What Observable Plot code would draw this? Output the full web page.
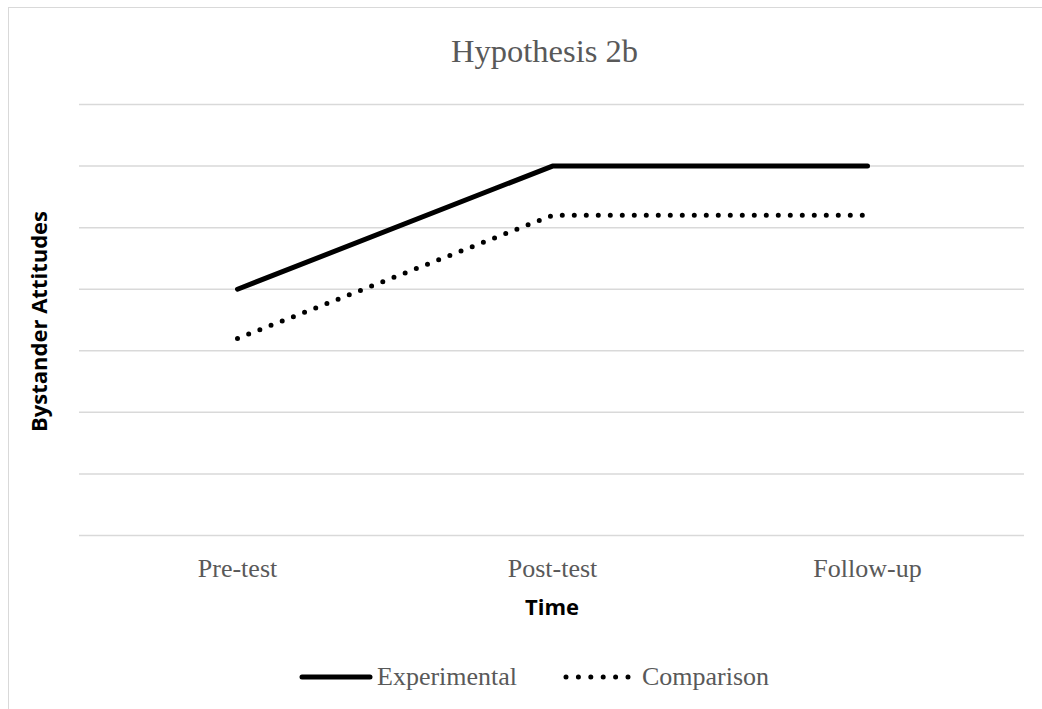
<!DOCTYPE html>
<html><head><meta charset="utf-8">
<script src="https://cdn.jsdelivr.net/npm/d3@7"></script>
<script src="https://cdn.jsdelivr.net/npm/@observablehq/plot@0.6"></script>
<style>
html,body{margin:0;padding:0;background:#fff;}
body{position:relative;width:1042px;height:709px;overflow:hidden;}
#frame{position:absolute;left:8px;top:7px;width:1200px;height:900px;border:1.5px solid #d9d9d9;box-sizing:border-box;}
#chart{position:absolute;left:0;top:0;}
#legend{position:absolute;left:0;top:0;}
</style>
</head><body>
<div id="frame"></div>
<div id="chart"></div>
<svg id="legend" width="1042" height="709"></svg>
<script>
// Data
const timepoints = ["Pre-test", "Post-test", "Follow-up"];
const experimental = [4.0, 6.0, 6.0];
const comparison = [3.2, 5.2, 5.2];
const gridValues = [1, 2, 3, 4, 5, 6, 7];
const titleText = "Hypothesis 2b";
const xLabel = "Time";
const yLabel = "Bystander Attitudes";
const seriesNames = ["Experimental", "Comparison"];

const expData = timepoints.map((t, i) => ({time: t, value: experimental[i]}));
const cmpData = timepoints.map((t, i) => ({time: t, value: comparison[i]}));

const serif = "'Liberation Serif', 'Times New Roman', serif";
const sans = "'Open Sans', 'Liberation Sans', sans-serif";
const grey = "#595959";
const gridColor = "#d9d9d9";

const chart = Plot.plot({
  width: 1042,
  height: 709,
  marginTop: 104,
  marginBottom: 174,
  marginLeft: 79,
  marginRight: 18,
  style: {background: "transparent", overflow: "visible"},
  x: {type: "point", domain: timepoints, padding: 0.5, axis: null},
  y: {domain: [0, 7], axis: null},
  marks: [
    Plot.ruleY(gridValues, {stroke: gridColor, strokeWidth: 1.5}),
    Plot.ruleY([0], {stroke: gridColor, strokeWidth: 1.5}),
    Plot.line(cmpData, {x: "time", y: "value", stroke: "black", strokeWidth: 5,
      strokeLinecap: "round", strokeDasharray: "0 12"}),
    Plot.line(expData, {x: "time", y: "value", stroke: "black", strokeWidth: 5,
      strokeLinecap: "round", strokeLinejoin: "round"}),
    Plot.text(timepoints, {x: d => d, frameAnchor: "bottom", lineAnchor: "bottom", dy: 41,
      fontFamily: serif, fontSize: 26, fill: grey}),
    Plot.text([xLabel], {frameAnchor: "bottom", lineAnchor: "bottom", dy: 79,
      fontFamily: sans, fontWeight: "bold", fontSize: 22, fill: "black"}),
    Plot.text([yLabel], {frameAnchor: "left", textAnchor: "middle", lineAnchor: "middle",
      rotate: -90, dx: -40, dy: 1.5,
      fontFamily: sans, fontWeight: "bold", fontSize: 22, fill: "black"}),
    Plot.text([titleText], {frameAnchor: "top", lineAnchor: "bottom", dx: -7.5, dy: -43,
      fontFamily: serif, fontSize: 32.5, fill: grey})
  ]
});
document.getElementById("chart").appendChild(chart);

// Legend
const lg = d3.select("#legend");
lg.append("line").attr("x1", 302).attr("x2", 370).attr("y1", 677).attr("y2", 677)
  .attr("stroke", "black").attr("stroke-width", 5).attr("stroke-linecap", "round");
lg.append("text").attr("x", 377).attr("y", 685).text(seriesNames[0])
  .attr("font-family", serif).attr("font-size", 26).attr("fill", grey);
lg.append("line").attr("x1", 566).attr("x2", 630).attr("y1", 677).attr("y2", 677)
  .attr("stroke", "black").attr("stroke-width", 5).attr("stroke-linecap", "round")
  .attr("stroke-dasharray", "0 12.4");
lg.append("text").attr("x", 642).attr("y", 685).text(seriesNames[1])
  .attr("font-family", serif).attr("font-size", 26).attr("fill", grey);
</script>
</body></html>
